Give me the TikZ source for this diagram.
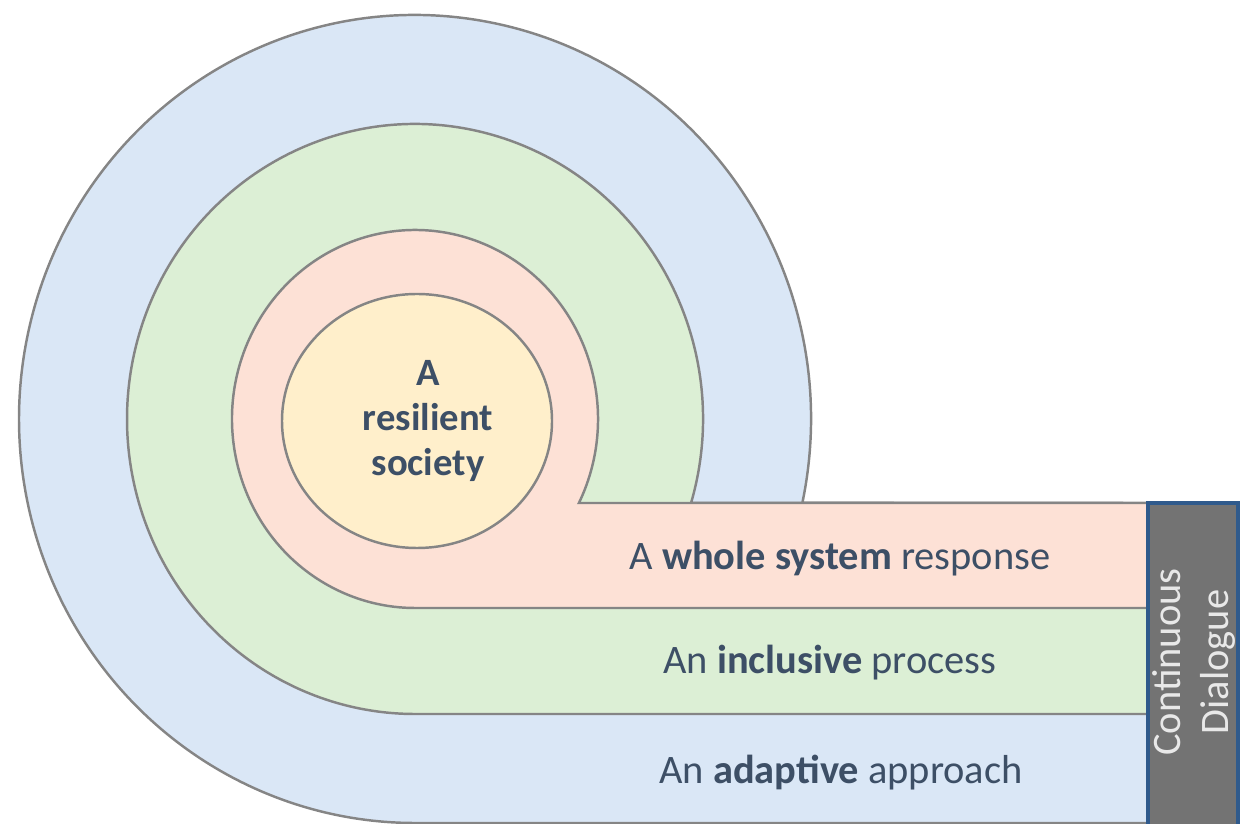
\documentclass[tikz,border=0pt]{standalone}
\usepackage{fontspec}
\setmainfont{Carlito}
\usetikzlibrary{calc}
\definecolor{ringblue}{HTML}{DAE7F6}
\definecolor{ringgreen}{HTML}{DCEFD5}
\definecolor{ringpink}{HTML}{FDE1D6}
\definecolor{ringyellow}{HTML}{FFEFCB}
\definecolor{edgegray}{HTML}{858585}
\definecolor{boxgray}{HTML}{737373}
\definecolor{boxblue}{HTML}{2F5A8C}
\definecolor{textnavy}{HTML}{3D4F66}
\definecolor{boxtext}{HTML}{E8E8E8}

\begin{document}
\begin{tikzpicture}[x=0.01cm,y=0.01cm,
    ring/.style={draw=edgegray,line width=0.7pt},
    bandtext/.style={anchor=base,text=textnavy,font=\fontsize{11.5}{13}\selectfont}]
    \useasboundingbox (0,0) rectangle (1245,824);
    \coordinate (c) at (415,405);
    % outer ring and band
    \draw[ring,fill=ringblue] ($(c)+(-11.97:396 and 404)$) arc[start angle=-11.97,end angle=270,x radius=396,y radius=404]
        -- (1148,1) -- (1148,321) -- cycle;
    % middle ring and band
    \draw[ring,fill=ringgreen] ($(c)+(-16.54:288 and 295)$) arc[start angle=-16.54,end angle=270,x radius=288,y radius=295]
        -- (1148,110) -- (1148,321) -- cycle;
    % inner ring and band
    \draw[ring,fill=ringpink] ($(c)+(-26.39:183 and 189)$) arc[start angle=-26.39,end angle=270,x radius=183,y radius=189]
        -- (1148,216) -- (1148,321) -- cycle;
    \draw[ring,fill=ringyellow] (417,403) ellipse[x radius=135,y radius=127];
    \node[align=center,text=textnavy,font=\bfseries\fontsize{11}{12.8}\selectfont] (core) at (428,403) {A\\resilient\\society};
    % side box
    \draw[draw=boxblue,line width=0.9pt,fill=boxgray] (1148,-5) rectangle (1238,321);
    \node[rotate=90,align=center,text=boxtext,font=\fontsize{11.5}{13.5}\selectfont] (dialogue) at (1194,162) {Continuous\\Dialogue};
    % band labels
    \node[bandtext] (whole) at (840,254) {A \textbf{whole system} response};
    \node[bandtext] (inclusive) at (830,150) {An \textbf{inclusive} process};
    \node[bandtext] (adaptive) at (841,41) {An \textbf{adaptive} approach};
\end{tikzpicture}
\end{document}
